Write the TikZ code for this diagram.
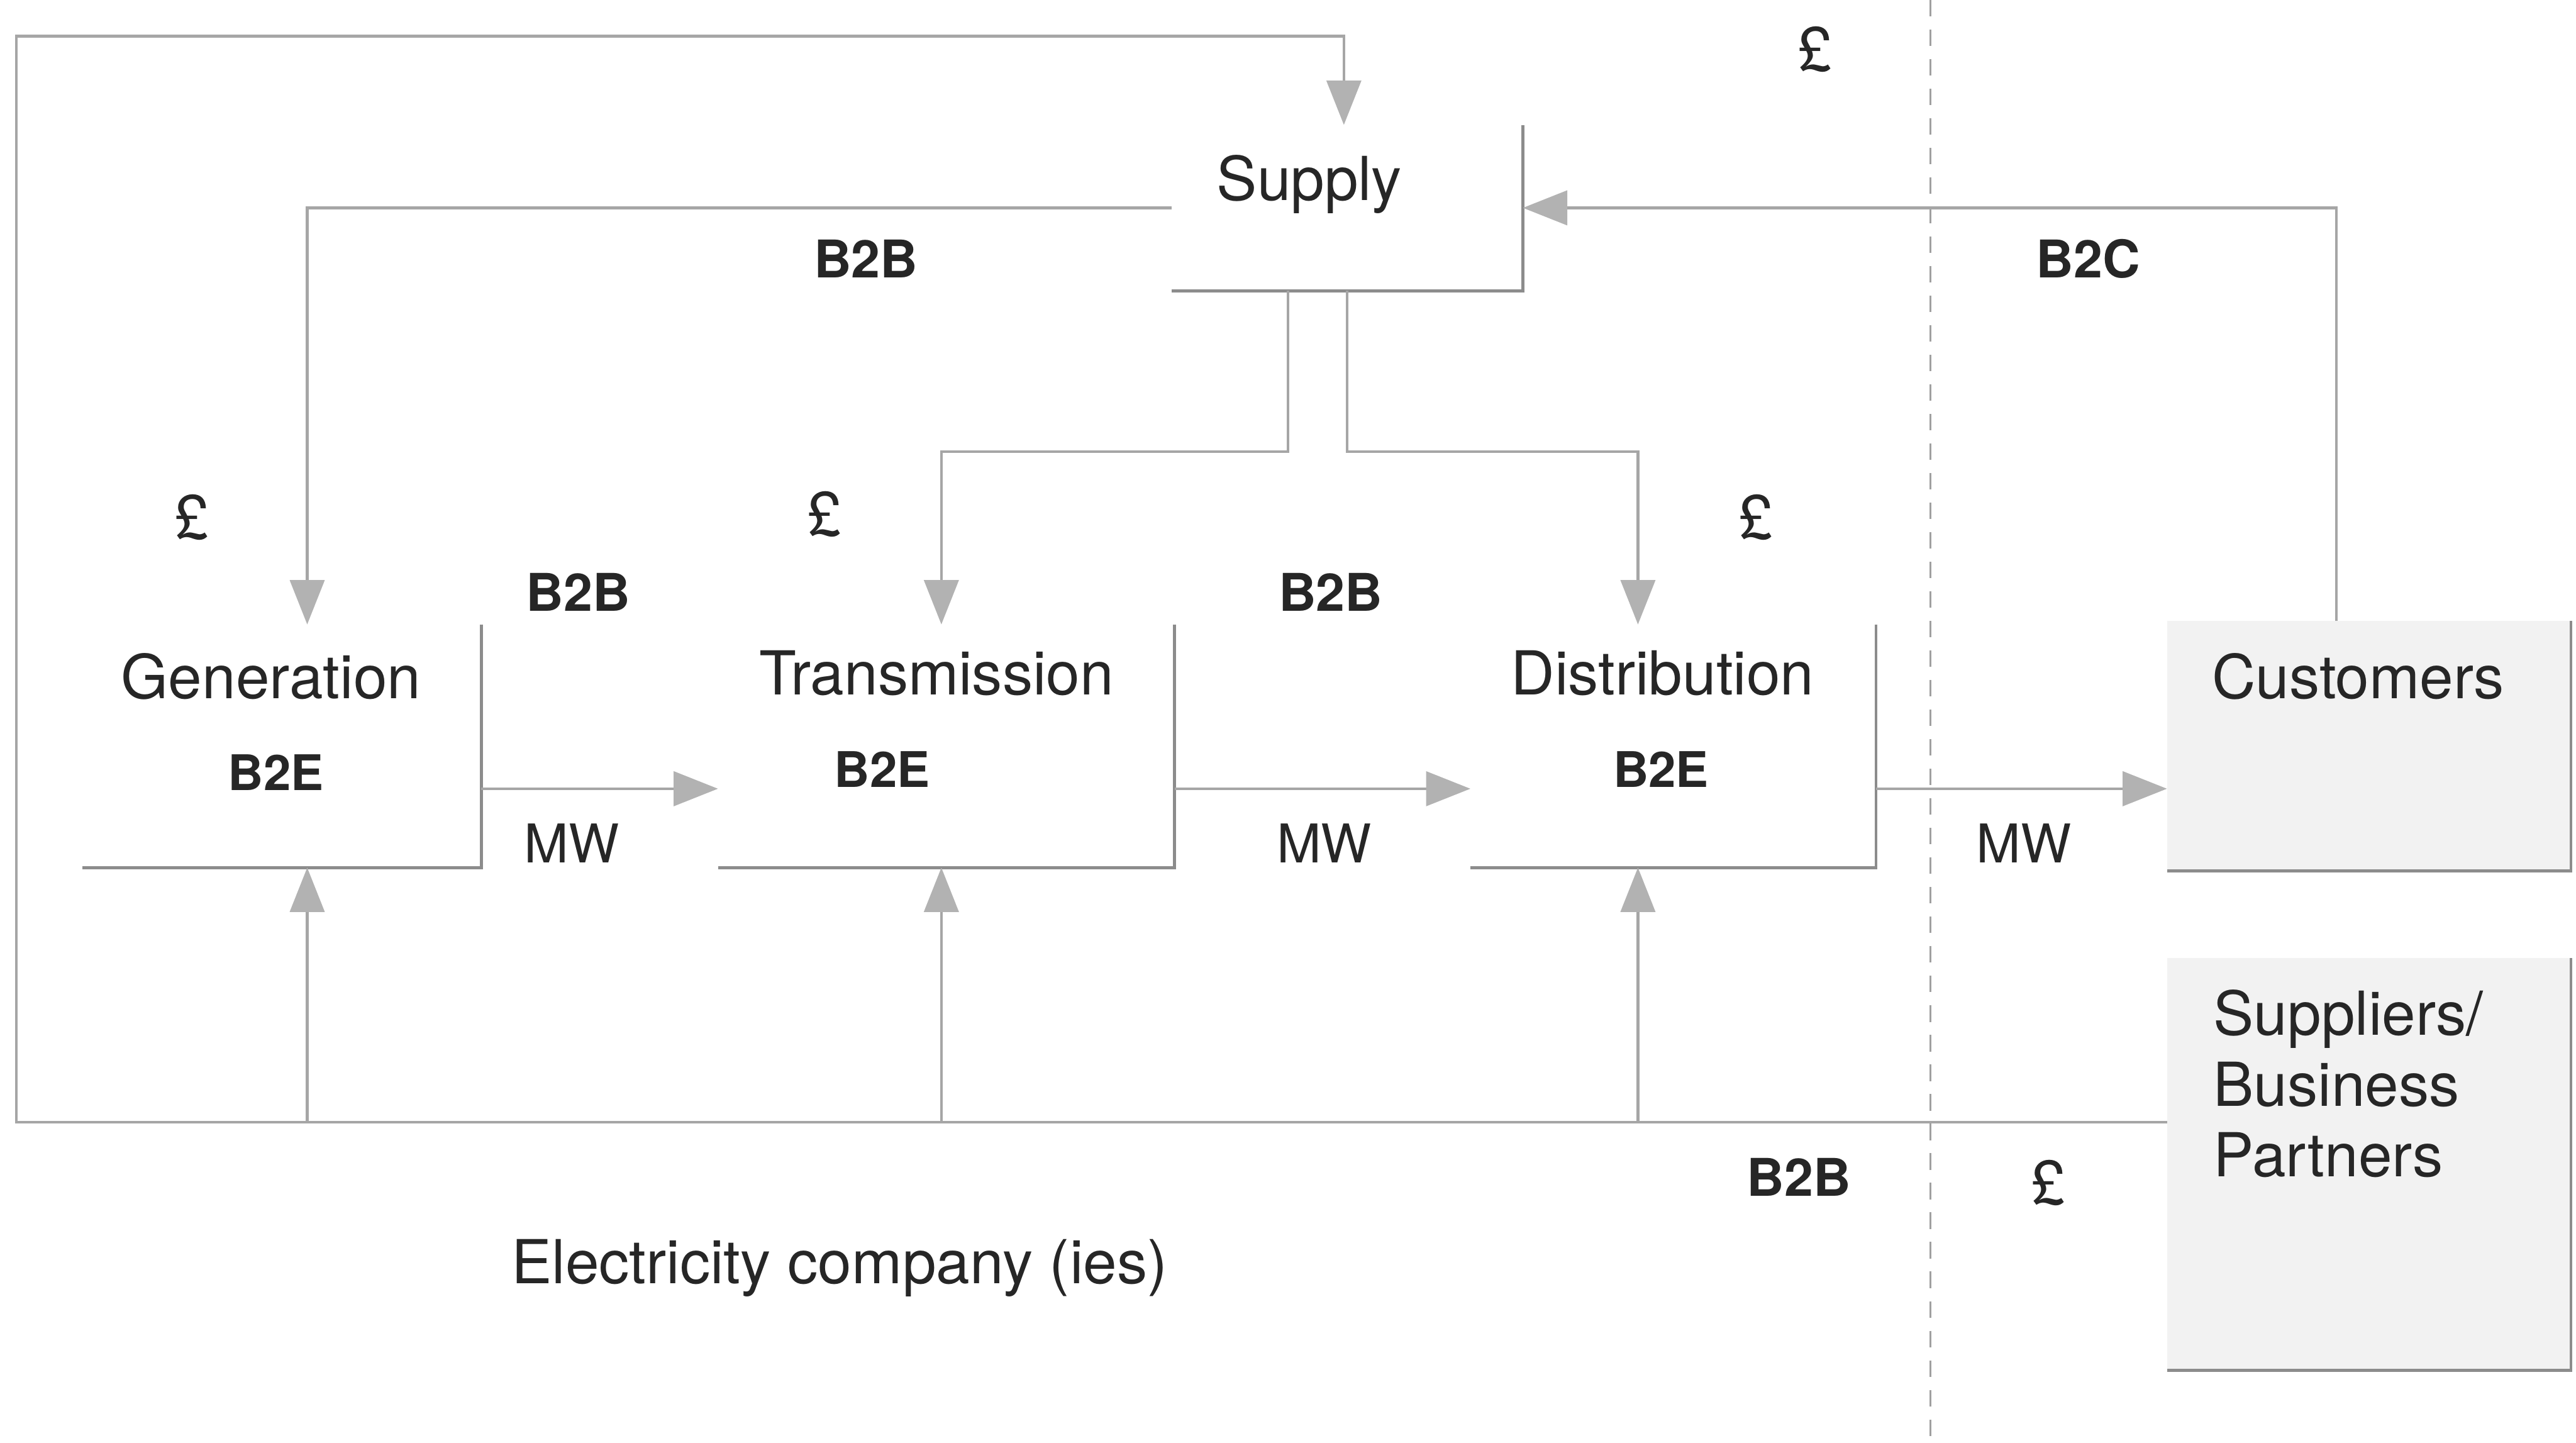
\documentclass[tikz,border=0pt]{standalone}
\usepackage{fontspec}
\setmainfont{TeX Gyre Heros}
\usetikzlibrary{arrows.meta,calc}
\definecolor{linegray}{HTML}{A6A6A6}
\definecolor{tipgray}{HTML}{B2B2B2}
\definecolor{edgegray}{HTML}{8C8C8C}
\definecolor{panelgray}{HTML}{F2F2F2}
\definecolor{dashgray}{HTML}{A0A0A0}
\newcommand\bigfont{\fontsize{21}{25}\selectfont}
\newcommand\tagfont{\fontsize{18}{22}\selectfont\bfseries}
\newcommand\efont{\fontsize{17}{21}\selectfont\bfseries}
\newcommand\mwfont{\fontsize{18.5}{22}\selectfont}
\begin{document}
\begin{tikzpicture}[x=0.02cm,y=-0.02cm,
  box/.style={inner sep=0pt,outer sep=0pt},
  panel/.style={box,fill=panelgray},
  edge/.style={draw=edgegray,line width=1pt},
  conn/.style={draw=linegray,line width=0.9pt},
  arr/.style={conn,-{Triangle[length=0.54cm,width=0.42cm,color=tipgray]}},
  txt/.style={inner sep=0pt,anchor=base,text=black!85},
  big/.style={txt,font=\bigfont},
  tag/.style={txt,font=\tagfont},
  etag/.style={txt,font=\efont},
  mw/.style={txt,font=\mwfont},
  divider/.style={draw=dashgray,line width=0.6pt,dash pattern=on 0.2cm off 0.16cm}
]
\useasboundingbox (0,0) rectangle (1568,878);

% boundary between the company and the outside world
\draw[divider] (1175,0) -- (1175,878);

% boxes (open: only right and bottom edges are drawn)
\node[box,minimum width=4.28cm,minimum height=2.02cm] (supply) at (820,126.5) {};
\node[box,minimum width=4.86cm,minimum height=2.96cm] (gen) at (171.5,454) {};
\node[box,minimum width=5.56cm,minimum height=2.96cm] (trans) at (576,454) {};
\node[box,minimum width=4.94cm,minimum height=2.96cm] (dist) at (1018.5,454) {};
\node[panel,minimum width=4.92cm,minimum height=3.04cm] (cust) at (1442,454) {};
\node[panel,minimum width=4.92cm,minimum height=5.02cm] (sup) at (1442,708.5) {};

\foreach \b in {supply,gen,trans,dist,cust,sup}
  \draw[edge] (\b.north east) -- (\b.south east) -- (\b.south west);

% box texts
\node[big] (supplyT) at (797,122) {Supply};
\node[big] (genT) at (165,425) {Generation};
\node[etag] (genE) at (168,481) {B2E};
\node[big] (transT) at (570,423) {Transmission};
\node[etag] (transE) at (537,479) {B2E};
\node[big] (distT) at (1012,423) {Distribution};
\node[etag] (distE) at (1011,479) {B2E};
\node[big,anchor=base west] (custT) at (1346,425) {Customers};
\node[big,anchor=base west] (supT1) at (1347,630) {Suppliers/};
\node[big,anchor=base west] (supT2) at (1347,673) {Business};
\node[big,anchor=base west] (supT3) at (1347,716) {Partners};

% connection points
\coordinate (bl) at (10,683);
\coordinate (tl) at (10,22);
\coordinate (split) at (0,275);
\coordinate (genTop) at ($(gen.north)+(15.5,0)$);
\coordinate (genIn) at ($(gen.south)+(15.5,0)$);
\coordinate (transTop) at ($(trans.north)+(-3,0)$);
\coordinate (transIn) at ($(trans.south)+(-3,0)$);
\coordinate (distTop) at ($(dist.north)+(-21.5,0)$);
\coordinate (distIn) at ($(dist.south)+(-21.5,0)$);
\coordinate (sdl) at ($(supply.south)+(-36,0)$);
\coordinate (sdr) at ($(supply.south)+(0,0)$);
\coordinate (custOut) at ($(cust.north)+(-20,0)$);

% money and service flows
\draw[arr] (supply.west) -| (genTop);
\draw[arr] (custOut) |- (supply.east);
\draw[arr] (sdl) -- (sdl |- split) -| (transTop);
\draw[arr] (sdr) -- (sdr |- split) -| (distTop);

% energy flow
\draw[arr] ($(gen.east)+(0,26)$) -- ($(trans.west)+(0,26)$);
\draw[arr] ($(trans.east)+(0,26)$) -- ($(dist.west)+(0,26)$);
\draw[arr] ($(dist.east)+(0,26)$) -- ($(cust.west)+(0,26)$);

% supplier loop
\draw[arr] (bl -| sup.west) -- (bl) -- (tl) -| ($(supply.north)+(-2,0)$);
\draw[arr] (genIn |- bl) -- (genIn);
\draw[arr] (transIn |- bl) -- (transIn);
\draw[arr] (distIn |- bl) -- (distIn);

% labels
\node[tag] (b2bTop) at (527,169) {B2B};
\node[tag] (b2c) at (1271,169) {B2C};
\node[tag] (b2bGT) at (352,372) {B2B};
\node[tag] (b2bTD) at (810,372) {B2B};
\node[tag] (b2bSup) at (1095,728) {B2B};
\node[mw] (mw1) at (348,525) {MW};
\node[mw] (mw2) at (806,525) {MW};
\node[mw] (mw3) at (1232,525) {MW};
\node[big] (pTop) at (1105,43) {£};
\node[big] (pGen) at (117,328) {£};
\node[big] (pTrans) at (502,326) {£};
\node[big] (pDist) at (1069,328) {£};
\node[big] (pSup) at (1247,733) {£};
\node[big] (company) at (511,781) {Electricity company (ies)};
\end{tikzpicture}
\end{document}
